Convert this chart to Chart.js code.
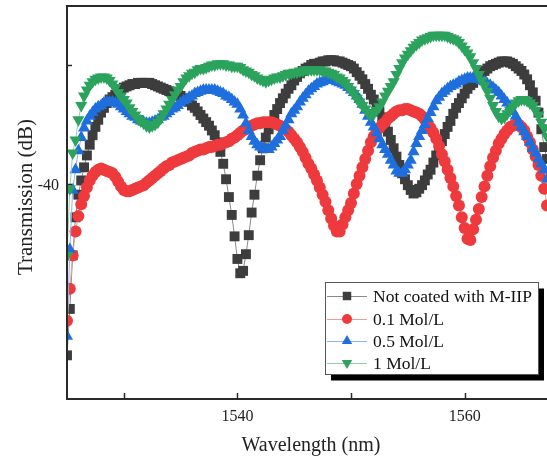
<!DOCTYPE html>
<html>
<head>
<meta charset="utf-8">
<script src="https://cdn.jsdelivr.net/npm/chart.js@4.4.1/dist/chart.umd.min.js"></script>
<style>
  html, body { margin: 0; padding: 0; background: #fff; overflow: hidden; }
  #chart { display: block; }
</style>
</head>
<body>
<canvas id="chart" width="547" height="465"></canvas>
<script>
// wavelength grid (nm): first sample and spacing
const wlStart = 1525;
const wlStep = 0.25;

const seriesNames = ['Not coated with M-IIP', '0.1 Mol/L', '0.5 Mol/L', '1 Mol/L'];

// transmission (dB), one value per grid sample, 8 samples per row (2 nm)
const notCoated = [
  -54.4, -50.5, -46.0, -42.8, -40.9, -39.7, -38.6, -37.6,
  -36.7, -35.9, -35.2, -34.6, -34.0, -33.6, -33.2, -32.9,
  -32.7, -32.5, -32.3, -32.1, -31.9, -31.8, -31.7, -31.6,
  -31.6, -31.5, -31.5, -31.5, -31.5, -31.5, -31.6, -31.7,
  -31.8, -31.9, -32.0, -32.1, -32.2, -32.3, -32.4, -32.5,
  -32.6, -32.8, -32.9, -33.1, -33.4, -33.6, -33.9, -34.2,
  -34.5, -34.8, -35.1, -35.5, -35.9, -36.5, -37.3, -38.3,
  -39.6, -41.1, -42.6, -44.4, -46.3, -47.5, -47.3, -45.9,
  -44.3, -42.4, -40.9, -39.3, -38.0, -37.0, -36.1, -35.4,
  -34.8, -34.2, -33.7, -33.2, -32.8, -32.4, -32.0, -31.7,
  -31.3, -31.0, -30.7, -30.5, -30.3, -30.2, -30.0, -29.9,
  -29.9, -29.8, -29.7, -29.7, -29.6, -29.6, -29.6, -29.7,
  -29.7, -29.8, -29.9, -30.0, -30.1, -30.3, -30.6, -30.9,
  -31.2, -31.6, -32.0, -32.5, -32.9, -33.4, -33.9, -34.4,
  -35.0, -35.6, -36.3, -37.0, -37.7, -38.4, -39.1, -39.6,
  -40.1, -40.5, -40.8, -40.7, -40.4, -40.1, -39.7, -39.2,
  -38.8, -38.2, -37.6, -37.0, -36.4, -35.8, -35.2, -34.7,
  -34.1, -33.6, -33.2, -32.8, -32.4, -32.0, -31.7, -31.5,
  -31.2, -31.0, -30.7, -30.5, -30.3, -30.1, -30.0, -29.9,
  -29.8, -29.7, -29.7, -29.7, -29.8, -29.9, -30.1, -30.3,
  -30.5, -30.8, -31.2, -31.7, -32.3, -33.0, -34.0, -35.4,
  -36.9, -37.9
];

const mol01 = [
  -51.5, -48.8, -46.0, -44.0, -42.7, -41.7, -41.0, -40.3,
  -39.7, -39.3, -39.0, -38.8, -38.7, -38.8, -38.9, -39.0,
  -39.1, -39.4, -39.8, -40.2, -40.5, -40.6, -40.6, -40.5,
  -40.4, -40.3, -40.2, -40.1, -39.9, -39.7, -39.5, -39.3,
  -39.1, -38.9, -38.7, -38.5, -38.4, -38.2, -38.1, -38.0,
  -37.9, -37.8, -37.7, -37.6, -37.4, -37.3, -37.2, -37.1,
  -37.1, -37.0, -36.9, -36.9, -36.8, -36.7, -36.7, -36.6,
  -36.5, -36.4, -36.2, -36.1, -35.9, -35.7, -35.5, -35.4,
  -35.2, -35.1, -35.0, -34.9, -34.9, -34.8, -34.8, -34.8,
  -34.8, -34.9, -35.0, -35.1, -35.2, -35.4, -35.6, -35.9,
  -36.2, -36.5, -36.9, -37.3, -37.8, -38.3, -38.7, -39.2,
  -39.7, -40.3, -40.9, -41.5, -42.2, -42.9, -43.5, -44.0,
  -44.0, -43.4, -42.8, -42.2, -41.6, -40.8, -40.0, -39.3,
  -38.6, -37.9, -37.2, -36.5, -36.0, -35.6, -35.3, -35.0,
  -34.8, -34.5, -34.3, -34.1, -33.9, -33.8, -33.8, -33.7,
  -33.7, -33.8, -33.9, -34.0, -34.1, -34.3, -34.6, -34.9,
  -35.3, -35.7, -36.2, -36.8, -37.5, -38.1, -38.8, -39.5,
  -40.2, -41.0, -41.8, -42.8, -43.7, -44.6, -44.7, -43.8,
  -43.0, -42.1, -41.1, -40.2, -39.3, -38.5, -37.8, -37.2,
  -36.6, -36.2, -35.8, -35.5, -35.2, -35.1, -35.0, -35.0,
  -35.2, -35.5, -36.0, -36.5, -37.1, -37.7, -38.4, -39.3,
  -40.4, -41.8
];

const mol05 = [
  -52.8, -45.5, -40.5, -38.8, -37.2, -36.1, -35.3, -34.7,
  -34.3, -34.0, -33.7, -33.5, -33.4, -33.2, -33.1, -33.1,
  -33.1, -33.2, -33.3, -33.5, -33.7, -33.9, -34.1, -34.3,
  -34.4, -34.6, -34.7, -34.8, -34.9, -34.9, -34.8, -34.7,
  -34.6, -34.4, -34.3, -34.1, -33.9, -33.7, -33.6, -33.4,
  -33.2, -33.0, -32.9, -32.7, -32.6, -32.4, -32.3, -32.2,
  -32.1, -32.1, -32.1, -32.1, -32.1, -32.2, -32.3, -32.4,
  -32.6, -32.7, -32.9, -33.1, -33.3, -33.7, -34.2, -34.9,
  -35.5, -36.0, -36.4, -36.7, -36.9, -37.0, -37.1, -37.1,
  -36.9, -36.6, -36.3, -36.0, -35.5, -35.1, -34.6, -34.1,
  -33.8, -33.5, -33.1, -32.8, -32.5, -32.2, -32.0, -31.8,
  -31.6, -31.5, -31.4, -31.3, -31.3, -31.3, -31.3, -31.4,
  -31.5, -31.6, -31.7, -31.9, -32.1, -32.3, -32.6, -32.9,
  -33.3, -33.8, -34.3, -34.8, -35.2, -35.7, -36.2, -36.7,
  -37.1, -37.5, -38.0, -38.4, -38.9, -39.1, -39.1, -38.8,
  -38.4, -38.0, -37.3, -36.6, -36.0, -35.5, -35.0, -34.5,
  -34.0, -33.5, -33.0, -32.7, -32.4, -32.2, -32.0, -31.8,
  -31.7, -31.6, -31.4, -31.3, -31.2, -31.1, -31.1, -31.1,
  -31.2, -31.2, -31.3, -31.4, -31.6, -31.7, -31.9, -32.1,
  -32.3, -32.6, -32.9, -33.2, -33.5, -33.9, -34.3, -34.8,
  -35.2, -35.6, -36.0, -36.5, -37.0, -37.4, -37.9, -38.3,
  -38.8, -39.6
];

const mol1 = [
  -46.0, -40.4, -37.4, -36.3, -34.6, -33.4, -32.6, -32.1,
  -31.7, -31.4, -31.2, -31.1, -31.0, -31.0, -31.1, -31.3,
  -31.6, -31.9, -32.3, -32.6, -32.9, -33.2, -33.6, -33.9,
  -34.2, -34.5, -34.7, -34.9, -35.1, -35.2, -35.1, -35.0,
  -34.8, -34.5, -34.1, -33.7, -33.3, -32.9, -32.5, -32.1,
  -31.8, -31.4, -31.1, -30.9, -30.7, -30.6, -30.4, -30.3,
  -30.3, -30.2, -30.1, -30.0, -30.0, -29.9, -29.9, -29.9,
  -30.0, -30.0, -30.1, -30.1, -30.1, -30.2, -30.4, -30.5,
  -30.6, -30.8, -30.9, -31.1, -31.2, -31.3, -31.4, -31.3,
  -31.2, -31.1, -31.0, -31.0, -30.9, -30.8, -30.7, -30.7,
  -30.6, -30.6, -30.5, -30.5, -30.4, -30.4, -30.4, -30.4,
  -30.4, -30.4, -30.5, -30.5, -30.6, -30.7, -30.8, -31.0,
  -31.1, -31.3, -31.5, -31.8, -32.1, -32.4, -32.8, -33.1,
  -33.4, -33.7, -34.0, -34.2, -34.1, -33.8, -33.5, -33.1,
  -32.6, -32.2, -31.8, -31.4, -30.8, -30.3, -29.8, -29.4,
  -29.1, -28.8, -28.5, -28.3, -28.1, -27.9, -27.8, -27.7,
  -27.6, -27.5, -27.5, -27.5, -27.5, -27.5, -27.6, -27.7,
  -27.8, -27.9, -28.1, -28.4, -28.7, -29.0, -29.3, -29.8,
  -30.3, -30.8, -31.3, -31.7, -32.2, -32.8, -33.4, -33.9,
  -34.3, -34.5, -34.4, -34.1, -33.8, -33.5, -33.2, -33.0,
  -32.9, -32.9, -33.0, -33.2, -33.4, -33.8, -34.2, -34.8,
  -35.3, -36.0
];

// axis ticks
const xTickValues = [1530, 1540, 1550, 1560];
const xTickLabels = ['', '1540', '', '1560'];
const yTickValues = [-40, -30];
const yTickLabels = ['-40', ''];

const wavelength = [];
for (let i = 0; i < notCoated.length; i++) {
    wavelength.push(wlStart + i * wlStep);
}

const markerColors = ['#3d3d3d', '#ee3a3c', '#1e6fdd', '#2ba35d'];
const lineColors = ['#8a8a8a', '#f29a9a', '#8fb4ec', '#95cfab'];
const pointStyles = ['rect', 'circle', 'triangle', 'triangle'];
const pointRotations = [0, 0, 0, 180];
const pointRadii = [7, 6, 7, 7];
const serif = '"Liberation Serif", "Times New Roman", serif';

function toPoints(values) {
    return values.map((v, i) => ({ x: wavelength[i], y: v }));
}

const seriesValues = [notCoated, mol01, mol05, mol1];

const datasets = seriesValues.map((vals, i) => ({
    label: seriesNames[i],
    data: toPoints(vals),
    borderColor: lineColors[i],
    borderWidth: 1,
    backgroundColor: markerColors[i],
    pointBackgroundColor: markerColors[i],
    pointBorderWidth: 0,
    pointStyle: pointStyles[i],
    rotation: pointRotations[i],
    pointRadius: pointRadii[i],
    tension: 0,
    order: 4 - i
}));

function drawMarker(ctx, style, rot, r, x, y, color) {
    ctx.save();
    ctx.fillStyle = color;
    ctx.translate(x, y);
    ctx.rotate(rot * Math.PI / 180);
    ctx.beginPath();
    if (style === 'rect') {
        const s = r * Math.SQRT1_2;
        ctx.rect(-s, -s, 2 * s, 2 * s);
    } else if (style === 'circle') {
        ctx.arc(0, 0, r, 0, Math.PI * 2);
    } else {
        ctx.moveTo(0, -r);
        ctx.lineTo(r * Math.sin(2 * Math.PI / 3), -r * Math.cos(2 * Math.PI / 3));
        ctx.lineTo(r * Math.sin(4 * Math.PI / 3), -r * Math.cos(4 * Math.PI / 3));
        ctx.closePath();
    }
    ctx.fill();
    ctx.restore();
}

const framePlugin = {
    id: 'frame',
    afterDraw(chart) {
        const { ctx, chartArea: a, scales } = chart;
        const xs = scales.x, ys = scales.y;
        ctx.save();

        // frame (left, bottom, top)
        ctx.strokeStyle = '#2a2a2a';
        ctx.lineWidth = 2;
        ctx.beginPath();
        ctx.moveTo(a.right, a.top);
        ctx.lineTo(a.left, a.top);
        ctx.lineTo(a.left, a.bottom);
        ctx.lineTo(a.right, a.bottom);
        ctx.stroke();

        // inward ticks
        ctx.lineWidth = 1.5;
        ctx.beginPath();
        xs.ticks.forEach(t => {
            const px = Math.round(xs.getPixelForValue(t.value)) + 0.5;
            ctx.moveTo(px, a.bottom);
            ctx.lineTo(px, a.bottom - 6);
        });
        ys.ticks.forEach(t => {
            const py = Math.round(ys.getPixelForValue(t.value)) + 0.5;
            ctx.moveTo(a.left, py);
            ctx.lineTo(a.left + 5, py);
        });
        ctx.stroke();

        // tick labels
        ctx.fillStyle = '#222';
        ctx.font = '16px ' + serif;
        ctx.textBaseline = 'alphabetic';
        ctx.textAlign = 'center';
        xs.ticks.forEach((t, i) => {
            ctx.fillText(xTickLabels[i], xs.getPixelForValue(t.value), a.bottom + 22);
        });
        ctx.textAlign = 'right';
        ys.ticks.forEach((t, i) => {
            ctx.fillText(yTickLabels[i], a.left - 8, ys.getPixelForValue(t.value) + 6);
        });

        // axis titles
        ctx.font = '20px ' + serif;
        ctx.textAlign = 'center';
        ctx.fillText('Wavelength (nm)', 311, 451);
        ctx.save();
        ctx.translate(32, 197);
        ctx.rotate(-Math.PI / 2);
        ctx.font = '21px ' + serif;
        ctx.fillText('Transmission (dB)', 0, 0);
        ctx.restore();

        // legend with drop shadow
        const bx = 325.5, by = 282.5, bw = 213, bh = 92;
        ctx.fillStyle = '#000';
        ctx.fillRect(bx + 5.5, by + 6, bw, bh);
        ctx.fillStyle = '#fff';
        ctx.fillRect(bx, by, bw, bh);
        ctx.strokeStyle = '#555';
        ctx.lineWidth = 1;
        ctx.strokeRect(bx, by, bw, bh);

        const rowY = [296, 319, 341, 363];
        ctx.font = '17.5px ' + serif;
        ctx.textAlign = 'left';
        seriesNames.forEach((name, i) => {
            const yy = rowY[i];
            ctx.strokeStyle = lineColors[i];
            ctx.lineWidth = 1;
            ctx.beginPath();
            ctx.moveTo(327, yy + 0.5);
            ctx.lineTo(367, yy + 0.5);
            ctx.stroke();
            drawMarker(ctx, pointStyles[i], pointRotations[i], pointRadii[i] - 1, 347, yy, markerColors[i]);
            ctx.fillStyle = '#111';
            ctx.fillText(name, 373, yy + 6);
        });

        ctx.restore();
    }
};

new Chart(document.getElementById('chart'), {
    type: 'line',
    data: { datasets },
    options: {
        responsive: false,
        animation: false,
        layout: { autoPadding: false, padding: { top: 6, right: 0, left: 0, bottom: 0 } },
        plugins: {
            legend: { display: false },
            tooltip: { enabled: false }
        },
        scales: {
            x: {
                type: 'linear',
                min: 1525,
                max: 1567.25,
                grid: { display: false },
                border: { display: false },
                ticks: { display: false },
                afterBuildTicks: s => { s.ticks = xTickValues.map(v => ({ value: v })); },
                afterFit: s => {
                    s.height = 66;
                    s.paddingLeft = 0;
                    s.paddingRight = 0;
                }
            },
            y: {
                min: -58.07,
                max: -25.04,
                grid: { display: false },
                border: { display: false },
                ticks: { display: false },
                afterBuildTicks: s => { s.ticks = yTickValues.map(v => ({ value: v })); },
                afterFit: s => {
                    s.width = 67;
                    s.paddingTop = 0;
                    s.paddingBottom = 0;
                }
            }
        }
    },
    plugins: [framePlugin]
});
</script>
</body>
</html>
